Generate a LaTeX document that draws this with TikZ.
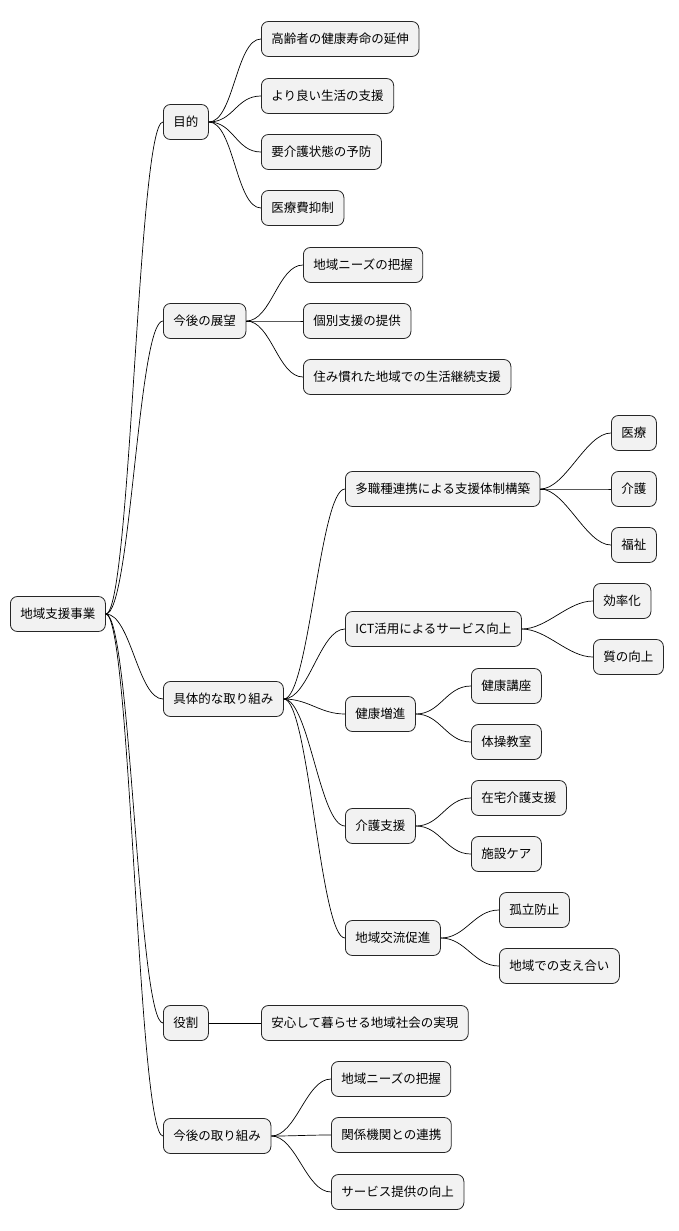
\documentclass[tikz,border=0pt]{standalone}
\usepackage{fontspec}
\setmainfont{Noto Sans CJK JP}
\begin{document}
\begin{tikzpicture}[x=1pt,y=1pt,
  n/.style={draw=black!85,fill=black!5,rounded corners=7pt,anchor=west,minimum height=35pt,inner xsep=10pt,font=\fontsize{12.5}{14}\selectfont,line width=0.8pt},
  e/.style={draw=black,line width=0.7pt}]
\useasboundingbox (0,0) rectangle (679,-1231);
\newcommand{\N}[4]{\node[n] (#1) at (#2,-#3) {#4};}
\N{r}{10}{614}{地域支援事業}
\N{a}{163}{122}{目的}
\N{a1}{261}{39}{高齢者の健康寿命の延伸}
\N{a2}{261}{96}{より良い生活の支援}
\N{a3}{261}{152}{要介護状態の予防}
\N{a4}{261}{208}{医療費抑制}
\N{b}{163}{321}{今後の展望}
\N{b1}{303}{265}{地域ニーズの把握}
\N{b2}{303}{321}{個別支援の提供}
\N{b3}{303}{377}{住み慣れた地域での生活継続支援}
\N{c}{163}{699}{具体的な取り組み}
\N{c1}{345}{489}{多職種連携による支援体制構築}
\N{c11}{611}{433}{医療}
\N{c12}{611}{489}{介護}
\N{c13}{611}{545}{福祉}
\N{c2}{345}{629}{ICT活用によるサービス向上}
\N{c21}{593}{601}{効率化}
\N{c22}{593}{657}{質の向上}
\N{c3}{345}{714}{健康増進}
\N{c31}{471}{686}{健康講座}
\N{c32}{471}{742}{体操教室}
\N{c4}{345}{826}{介護支援}
\N{c41}{471}{798}{在宅介護支援}
\N{c42}{471}{854}{施設ケア}
\N{c5}{345}{938}{地域交流促進}
\N{c51}{499}{910}{孤立防止}
\N{c52}{499}{966}{地域での支え合い}
\N{d}{163}{1023}{役割}
\N{d1}{261}{1023}{安心して暮らせる地域社会の実現}
\N{f}{163}{1136}{今後の取り組み}
\N{f1}{331}{1079}{地域ニーズの把握}
\N{f2}{331}{1135}{関係機関との連携}
\N{f3}{331}{1192}{サービス提供の向上}
\foreach \p/\c in {r/a,r/b,r/c,r/d,r/f,a/a1,a/a2,a/a3,a/a4,b/b1,b/b2,b/b3,c/c1,c/c2,c/c3,c/c4,c/c5,c1/c11,c1/c12,c1/c13,c2/c21,c2/c22,c3/c31,c3/c32,c4/c41,c4/c42,c5/c51,c5/c52,d/d1,f/f1,f/f2,f/f3}
  \draw[e] (\p.east) .. controls ([xshift=25pt]\p.east) and ([xshift=-25pt]\c.west) .. (\c.west);
\end{tikzpicture}
\end{document}
